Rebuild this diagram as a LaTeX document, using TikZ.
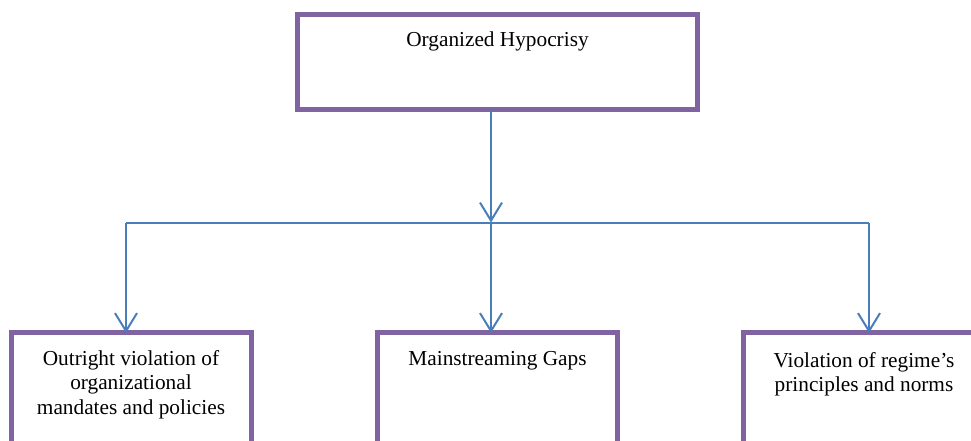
\documentclass[tikz,border=0pt]{standalone}
\usepackage{fontspec}
\setmainfont{Liberation Serif}
\usetikzlibrary{arrows.meta}
\definecolor{boxpurple}{HTML}{8064A2}
\definecolor{linkblue}{HTML}{4A7EBB}
\begin{document}
\begin{tikzpicture}[x=1pt,y=-1pt,
  box/.style={draw=boxpurple, line width=5pt, fill=white, minimum width=240pt, inner sep=0pt, outer sep=0pt},
  label text/.style={font=\fontsize{21.3}{24.5}\selectfont, align=center, inner sep=0pt, anchor=base},
  link/.style={draw=linkblue, line width=2pt},
  conn/.style={link, -{Straight Barb[length=18pt,width=22pt,line width=2pt]}}]
\useasboundingbox (0,0) rectangle (971,441);
\fill[white] (0,0) rectangle (971,441);
\clip (0,0) rectangle (971,441);
% boxes
\node[box, minimum width=400pt, minimum height=95pt] (top) at (497.5,62) {};
\node[box, minimum height=150pt, anchor=north] (left) at (131.5,332) {};
\node[box, minimum height=150pt, anchor=north] (mid) at (497.5,332) {};
\node[box, minimum height=150pt, anchor=north] (right) at (863.5,332) {};
% texts (base anchor = baseline of the last line)
\node[label text] (toptext) at (497.5,46.5) {Organized Hypocrisy};
\node[label text] (lefttext) at (131,414) {Outright violation of\\organizational\\mandates and policies};
\node[label text] (midtext) at (497.5,365.5) {Mainstreaming Gaps};
\node[label text] (righttext) at (864,391.5) {Violation of regime’s\\principles and norms};
% connectors
\coordinate (hub) at (491,222.5);
\coordinate (bl) at (126,222.5);
\coordinate (br) at (869,222.5);
\draw[conn] (top.south -| hub) -- (hub);
\draw[link] (bl) -- (br);
\draw[conn] (bl) -- ([yshift=-1pt]bl |- left.north);
\draw[conn] (hub) -- ([yshift=-1pt]hub |- mid.north);
\draw[conn] (br) -- ([yshift=-1pt]br |- right.north);
\end{tikzpicture}
\end{document}
